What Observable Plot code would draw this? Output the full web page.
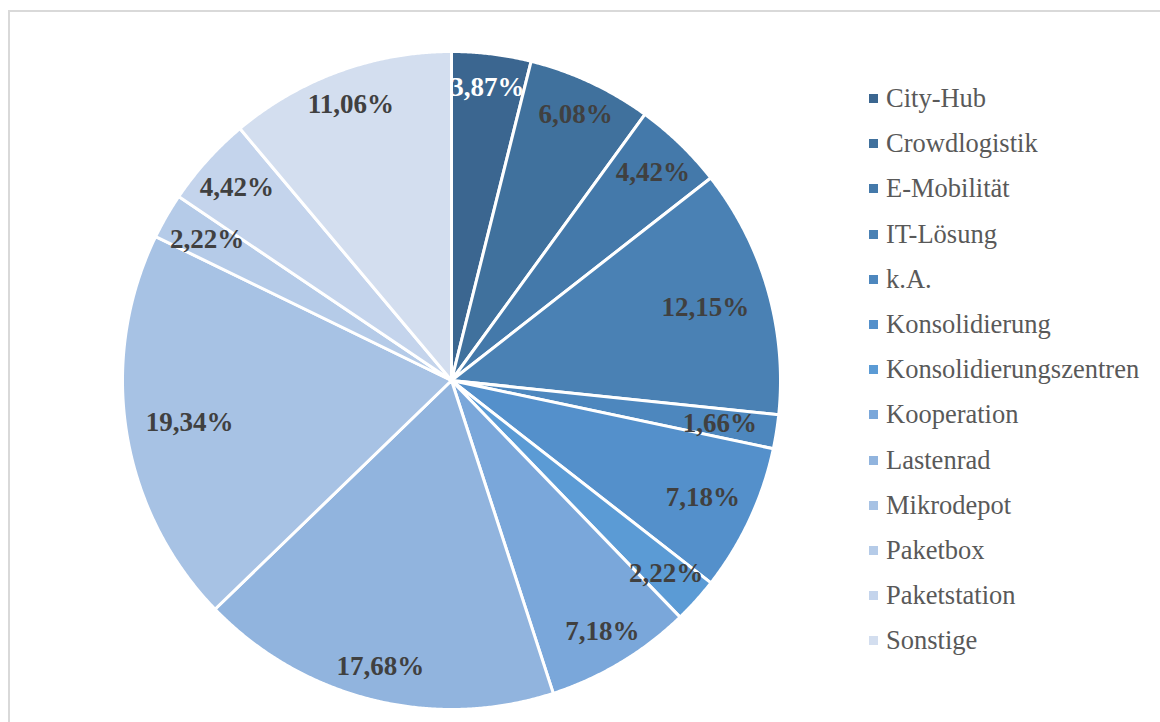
<!DOCTYPE html>
<html><head><meta charset="utf-8">
<script src="https://cdn.jsdelivr.net/npm/d3@7"></script>
<script src="https://cdn.jsdelivr.net/npm/@observablehq/plot@0.6"></script>
<style>
html,body{margin:0;padding:0;background:#fff;overflow:hidden}
#wrap{position:relative;width:1160px;height:722px;overflow:hidden}
#frame{position:absolute;left:8px;top:10px;width:1300px;height:900px;border-left:2px solid #d9d9d9;border-top:2px solid #d9d9d9;box-sizing:border-box}
#chart{position:absolute;left:0;top:0}
#legend{position:absolute;left:869px;top:76px;font-family:"Liberation Serif","Times New Roman",serif;font-size:26.5px;color:#595959}
.item{height:45.2px;display:flex;align-items:center;white-space:nowrap}
.sw{width:9px;height:9px;margin-right:8px;flex:none}
</style></head><body>
<div id="wrap"><div id="frame"></div><div id="chart"></div><div id="legend"></div></div>
<script>
const categories = ["City-Hub","Crowdlogistik","E-Mobilität","IT-Lösung","k.A.","Konsolidierung","Konsolidierungszentren","Kooperation","Lastenrad","Mikrodepot","Paketbox","Paketstation","Sonstige"];
const values = [3.87, 6.08, 4.42, 12.15, 1.66, 7.18, 2.22, 7.18, 17.68, 19.34, 2.22, 4.42, 11.06];
const colors = ["#3b6690","#40719d","#4479aa","#4a81b4","#4d87be","#5490cb","#5b9bd5","#7aa7da","#91b4de","#a7c2e4","#b5cbe8","#c4d4ec","#d3deef"];
const whiteLabels = ["City-Hub"];

const cx = 451, cy = 380, R = 329;
const fontSize = 27;

const arcs = d3.pie().sort(null).value(d => d)(values);

const slicePts = [];
arcs.forEach((a, i) => {
  slicePts.push({cat: categories[i], x: 0, y: 0});
  const n = Math.max(4, Math.ceil((a.endAngle - a.startAngle) / 0.005));
  for (let k = 0; k <= n; k++) {
    const t = a.startAngle + (a.endAngle - a.startAngle) * k / n;
    slicePts.push({cat: categories[i], x: Math.sin(t), y: Math.cos(t)});
  }
});

const fmt = v => v.toFixed(2).replace(".", ",") + "%";
function emWidth(s) {
  let w = 0;
  for (const c of s) w += c === "," ? 0.25 : c === "%" ? 1.0 : 0.5;
  return w;
}
// "inside end" placement: the ray from the centre leaves the label box, then a gap to the rim
const labels = arcs.map((a, i) => {
  const m = (a.startAngle + a.endAngle) / 2;
  const text = fmt(values[i]);
  const hw = emWidth(text) * 26 / 2;
  const hh = 13, pad = 20;
  const s = Math.abs(Math.sin(m)), c = Math.abs(Math.cos(m));
  const dBox = Math.min(s > 1e-6 ? hw / s : Infinity, c > 1e-6 ? hh / c : Infinity);
  const r = (R - 1 - pad - dBox) / R;
  return {cat: categories[i], text, x: r * Math.sin(m), y: r * Math.cos(m)};
});

const textOpts = {x: "x", y: "y", text: "text", fontSize, fontWeight: "bold", fontFamily: "Liberation Serif"};

const chart = Plot.plot({
  width: 1160, height: 722, margin: 0,
  style: {background: "transparent", fontFamily: "Liberation Serif"},
  x: {domain: [-1, 1], range: [cx - R, cx + R], axis: null},
  y: {domain: [-1, 1], range: [cy + R, cy - R], axis: null},
  color: {domain: categories, range: colors},
  marks: [
    Plot.line(slicePts, {x: "x", y: "y", z: "cat", fill: "cat", stroke: "white", strokeWidth: 3, strokeLinejoin: "round", curve: "linear-closed"}),
    Plot.text(labels.filter(d => !whiteLabels.includes(d.cat)), {...textOpts, fill: "#404040"}),
    Plot.text(labels.filter(d => whiteLabels.includes(d.cat)), {...textOpts, fill: "white"})
  ]
});
document.getElementById("chart").appendChild(chart);

const leg = document.getElementById("legend");
categories.forEach((c, i) => {
  const it = document.createElement("div");
  it.className = "item";
  const sw = document.createElement("span");
  sw.className = "sw";
  sw.style.background = colors[i];
  const tx = document.createElement("span");
  tx.textContent = c;
  it.appendChild(sw); it.appendChild(tx);
  leg.appendChild(it);
});
</script>
</body></html>
